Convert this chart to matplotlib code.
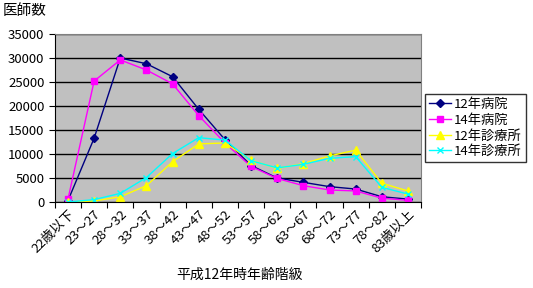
import matplotlib
matplotlib.use("Agg")
import matplotlib.pyplot as plt
import numpy as np

plt.rcParams['font.family'] = ['Noto Sans CJK JP', 'DejaVu Sans']

categories = ['22歳以下', '23～27', '28～32', '33～37', '38～42', '43～47', '48～52',
              '53～57', '58～62', '63～67', '68～72', '73～77', '78～82', '83歳以上']
hosp12 = [300, 13300, 30000, 28800, 26100, 19300, 13000, 7600, 5000, 4100, 3200, 2700, 1100, 600]
hosp14 = [600, 25200, 29600, 27500, 24600, 18000, 12300, 7400, 4900, 3400, 2500, 2300, 800, 350]
clinic12 = [0, 200, 1100, 3400, 8400, 12100, 12300, 8700, 7000, 8000, 9600, 10800, 3900, 2300]
clinic14 = [0, 500, 1800, 5100, 10100, 13400, 12900, 8600, 7100, 7850, 9100, 9450, 3050, 1650]
series_names = ['12年病院', '14年病院', '12年診療所', '14年診療所']

fig = plt.figure(figsize=(5.33, 2.88), dpi=100)
ax = fig.add_axes([0.103, 0.2986, 0.687, 0.5834])
ax.set_facecolor('#C0C0C0')

x = np.arange(len(categories))
ax.plot(x, hosp12, color='#000080', marker='D', markersize=4, lw=1, label=series_names[0])
ax.plot(x, hosp14, color='#FF00FF', marker='s', markersize=5, lw=1, label=series_names[1])
ax.plot(x, clinic12, color='#FFFF00', marker='^', markersize=6, lw=1, label=series_names[2])
ax.plot(x, clinic14, color='#00FFFF', marker='x', markersize=4, lw=1, label=series_names[3])

ax.set_xlim(-0.5, len(categories) - 0.5)
ax.set_ylim(0, 35000)
ax.set_yticks(range(0, 35001, 5000))
ax.yaxis.grid(True, color='black', lw=1)
ax.set_axisbelow(True)
ax.set_xticks(np.arange(-0.5, len(categories), 1), minor=False)
ax.set_xticklabels([])
ax.set_xticks(x, minor=True)
ax.set_xticklabels(categories, minor=True, rotation=45, ha='right', rotation_mode='anchor', fontsize=9.5)
ax.tick_params(axis='x', which='minor', length=0, pad=4)
ax.tick_params(axis='x', which='major', length=4, direction='out')
ax.tick_params(axis='y', labelsize=9.5, length=4)

for s in ['top', 'right']:
    ax.spines[s].set_color('#808080')
ax.spines['left'].set_color('black')
ax.spines['bottom'].set_color('black')

fig.text(0.005, 0.985, '医師数', fontsize=10.5, va='top', ha='left')
fig.text(0.45, 0.045, '平成12年時年齢階級', fontsize=10, ha='center', va='center')

leg = ax.legend(loc='center left', bbox_to_anchor=(1.0, 0.44), frameon=True, fancybox=False,
                edgecolor='black', fontsize=9.5, handlelength=1.7, borderpad=0.3,
                labelspacing=0.2, handletextpad=0.2, borderaxespad=0.3)
leg.get_frame().set_linewidth(1)

fig.savefig('out.png', dpi=100)
